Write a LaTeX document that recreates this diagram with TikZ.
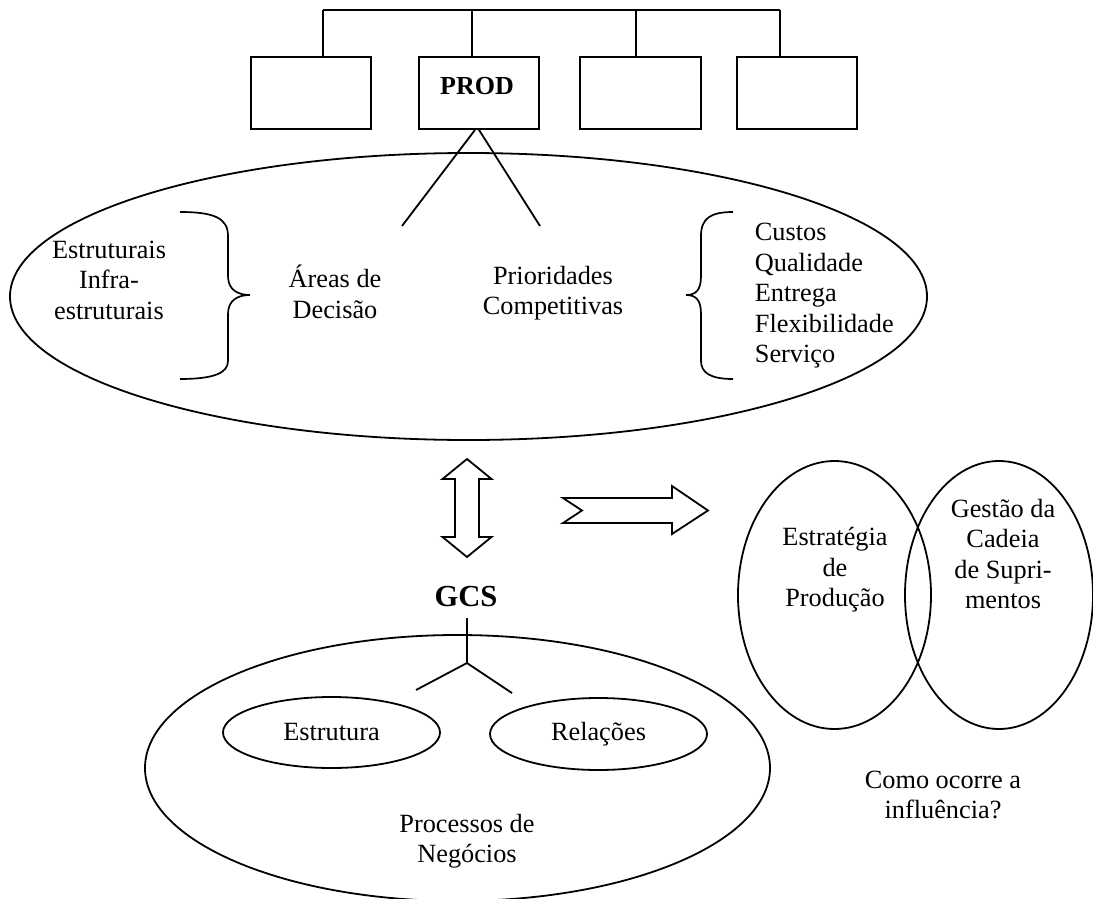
\documentclass[tikz,border=0pt]{standalone}
\usepackage{fontspec}
\setmainfont{Liberation Serif}
\usetikzlibrary{shapes.geometric}

\begin{document}
\begin{tikzpicture}[x=1pt,y=-1pt,
  line width=1.8pt, line join=miter,
  lbl/.style={font=\fontsize{26.3}{30.5}\selectfont, align=center, inner sep=0pt},
  orgbox/.style={draw, rectangle, minimum width=120pt, minimum height=72pt, inner sep=0pt},
  oval/.style={draw, ellipse, inner sep=0pt},
  bracepath/.style={line width=1.7pt}
]
\useasboundingbox (0,0) rectangle (1093,899);

% ---------- organisation chart ----------
\node[orgbox] (b1) at (311,93) {};
\node[orgbox] (b2) at (479,93) {};
\node[orgbox, minimum width=121pt] (b3) at (640.5,93) {};
\node[orgbox] (b4) at (797,93) {};
\node[lbl, font=\fontsize{26}{30}\selectfont\bfseries] (prod) at (477,86) {PROD};

\coordinate (bus1) at (323,10);
\coordinate (bus2) at (472,10);
\coordinate (bus3) at (636,10);
\coordinate (bus4) at (780,10);
\draw (bus1) -- (bus4);
\draw (bus1) -- (bus1 |- b1.north);
\draw (bus2) -- (bus2 |- b2.north);
\draw (bus3) -- (bus3 |- b3.north);
\draw (bus4) -- (bus4 |- b4.north);

% ---------- production strategy ellipse ----------
\node[oval, minimum width=917pt, minimum height=287pt] (prodell) at (468.5,296.5) {};

\coordinate (areasend) at (402,226);
\coordinate (priorend) at (540,226);
\draw ([xshift=-4pt]b2.south) -- (areasend);
\draw (b2.south) -- (priorend);

\node[lbl] (estrut) at (109,280) {Estruturais\\Infra-\\estruturais};
\node[lbl] (areas) at (335,292) {Áreas de\\Decisão};
\node[lbl] (prior) at (553,293) {Prioridades\\Competitivas};
\node[lbl, align=left, anchor=west] (crit) at (754,296)
  {Custos\\Qualidade\\Entrega\\Flexibilidade\\Serviço};

% left brace (opening towards the left list)
\draw[bracepath] (180,212) .. controls (214,212) and (228,218) .. (228,236)
  -- (228,276) .. controls (228,290) and (238,295) .. (250,295)
  .. controls (238,295) and (228,300) .. (228,314)
  -- (228,361) .. controls (228,373) and (214,379) .. (180,379);
% right brace (opening towards the right list)
\draw[bracepath] (733,212) .. controls (711,212) and (701,218) .. (701,236)
  -- (701,276) .. controls (701,290) and (696,295) .. (686,295)
  .. controls (696,295) and (701,300) .. (701,314)
  -- (701,361) .. controls (701,373) and (711,379) .. (733,379);

% ---------- block arrows ----------
\draw (467,459) -- (491.5,479) -- (479,479) -- (479,537) -- (491.5,537)
  -- (467,557) -- (442.5,537) -- (455,537) -- (455,479) -- (442.5,479) -- cycle;
\draw (563,498) -- (672,498) -- (672,486) -- (708,510.5) -- (672,534)
  -- (672,523) -- (563,523) -- (582,510.5) -- cycle;

% ---------- supply chain management ----------
\node[lbl, font=\fontsize{30.6}{34}\selectfont\bfseries, inner ysep=10pt] (gcs) at (466,597) {GCS};
\node[oval, minimum width=625pt, minimum height=266pt] (procell) at (457.5,768) {};
\node[oval, minimum width=217pt, minimum height=71pt, lbl, draw] (estr) at (331.5,732.5) {Estrutura};
\node[oval, minimum width=217pt, minimum height=72pt, lbl, draw] (rel) at (598.5,734) {Relações};
\node[lbl] (proc) at (467,841) {Processos de\\Negócios};

\coordinate (yj) at (467,663);
\coordinate (yl) at (416,690);
\coordinate (yr) at (512,693);
\draw (gcs.south -| yj) -- (yj);
\draw (yj) -- (yl);
\draw (yj) -- (yr);

% ---------- overlapping areas ----------
\node[oval, minimum width=193pt, minimum height=268pt] (pe) at (834.5,595) {};
\node[oval, minimum width=188pt, minimum height=268pt] (scm) at (999,595) {};
\node[lbl] (pelbl) at (835,570) {Estratégia\\de\\Produção};
\node[lbl] (scmlbl) at (1003,554) {Gestão da\\Cadeia\\de Supri-\\mentos};
\node[lbl] (quest) at (943,795) {Como ocorre a\\influência?};
\end{tikzpicture}
\end{document}
